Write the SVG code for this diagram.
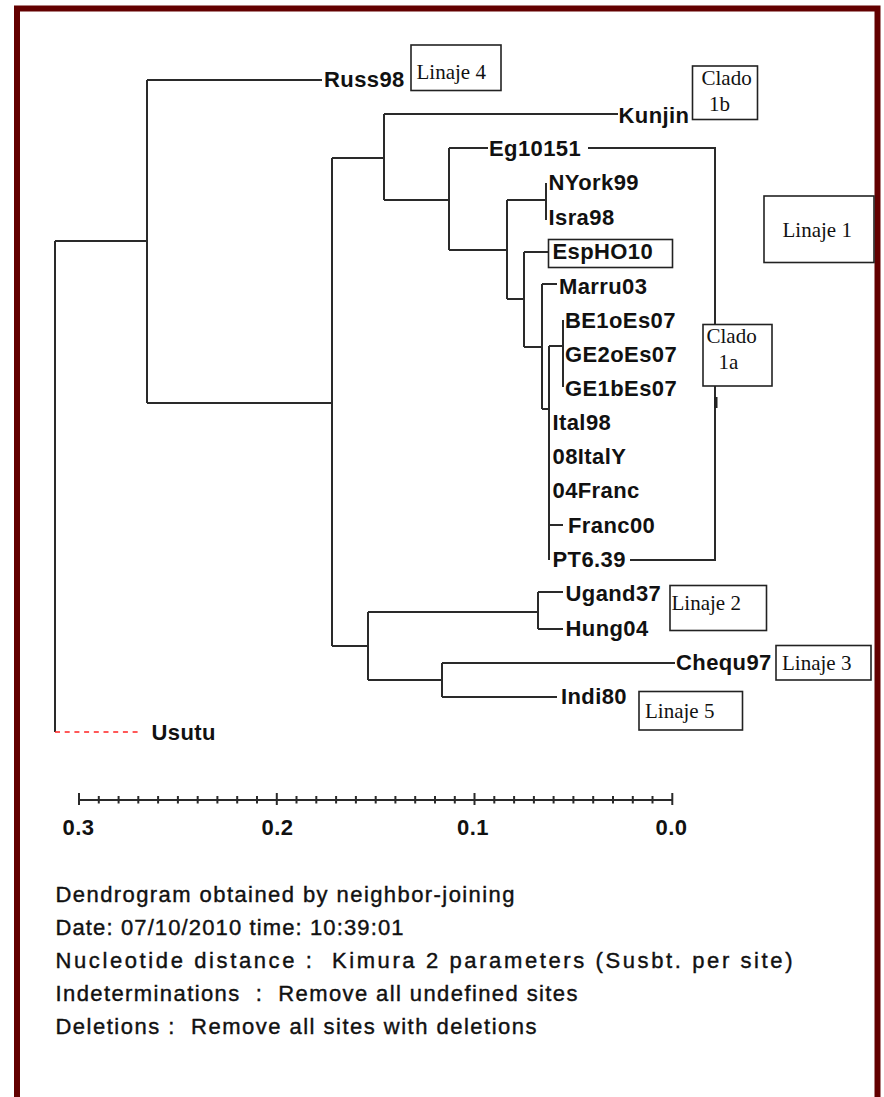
<svg xmlns="http://www.w3.org/2000/svg" width="884" height="1097" viewBox="0 0 884 1097">
<style>
.t{font-family:"Liberation Sans",Arial,sans-serif;font-weight:bold;font-size:22px;letter-spacing:0.4px;fill:#111}
.s{font-family:"Liberation Serif","Times New Roman",serif;font-size:21px;fill:#111}
.f{font-family:"Liberation Sans",Arial,sans-serif;font-size:22px;fill:#111;stroke:#111;stroke-width:0.4;white-space:pre}
.br{fill:none;stroke:#2a2a2a;stroke-width:2}
.box{fill:none;stroke:#222;stroke-width:1.6}
.tk{stroke:#2a2a2a;stroke-width:2}
</style>
<rect width="884" height="1097" fill="#fff"/>
<path d="M17,1110 V8.5 H877.5 V1110" fill="none" stroke="#630000" stroke-width="6"/>

<g id="connectors">
<path class="br" d="M55,241 H147 M55,241 V732 M147,80 V403 M147,80 H322 M147,403 H332 M332,158 V646 M332,158 H384 M332,646 H368 M384,114 V200 M384,114 H618 M384,200 H449 M449,148 V250 M449,148 H488 M449,250 H507 M507,200 V299 M507,200 H546 M507,299 H524 M546,183 V220 M524,252 V347 M524,252 H548 M524,347 H542 M542,284 V409 M542,284 H557 M542,409 H549 M549,346 V560 M549,346 H563 M549,525 H563 M563,320 V387 M588,148 H715 V324 M715,386 V560 H630 M368,612 V680 M368,612 H538 M368,680 H442 M538,592 V629 M538,592 H563 M538,629 H563 M442,663 V697 M442,663 H675 M442,697 H557"/>
<rect x="714" y="397" width="3.5" height="11" fill="#222"/>
<path d="M55,732 H142" fill="none" stroke="#f22" stroke-width="1.6" stroke-dasharray="5,4.7"/>
</g>

<g id="Russ98"><text class="t" x="324" y="87">Russ98</text></g>
<g id="Linaje4"><rect class="box" x="411" y="45" width="90" height="45.5"/><text class="s" x="416.5" y="79">Linaje 4</text></g>
<g id="Kunjin"><text class="t" x="618.5" y="122.5">Kunjin</text></g>
<g id="Clado1b"><rect class="box" x="692.5" y="66" width="65" height="53.5"/><text class="s" x="701.5" y="85">Clado</text><text class="s" x="709" y="111">1b</text></g>
<g id="Eg10151"><text class="t" x="489" y="156">Eg10151</text></g>
<g id="NYork99"><text class="t" x="548.5" y="190">NYork99</text></g>
<g id="Isra98"><text class="t" x="548.5" y="224.5">Isra98</text></g>
<g id="EspHO10"><rect class="box" x="548.5" y="239.5" width="124" height="28"/><text class="t" x="552.5" y="258.5">EspHO10</text></g>
<g id="Linaje1"><rect class="box" x="764" y="196" width="110" height="66.5"/><text class="s" x="782.5" y="236.5">Linaje 1</text></g>
<g id="Marru03"><text class="t" x="559" y="293.5">Marru03</text></g>
<g id="BE1oEs07"><text class="t" x="565" y="327.5">BE1oEs07</text></g>
<g id="GE2oEs07"><text class="t" x="565" y="361.5">GE2oEs07</text></g>
<g id="GE1bEs07"><text class="t" x="565" y="395.5">GE1bEs07</text></g>
<g id="Clado1a"><rect class="box" x="703" y="324.5" width="69" height="61.5"/><text class="s" x="706.5" y="342.5">Clado</text><text class="s" x="718.5" y="369">1a</text></g>
<g id="Ital98"><text class="t" x="552.5" y="430">Ital98</text></g>
<g id="08ItalY"><text class="t" x="552.5" y="464">08ItalY</text></g>
<g id="04Franc"><text class="t" x="552.5" y="498">04Franc</text></g>
<g id="Franc00"><text class="t" x="568" y="532.5">Franc00</text></g>
<g id="PT6.39"><text class="t" x="552.5" y="566.5">PT6.39</text></g>
<g id="Ugand37"><text class="t" x="565.5" y="600.5">Ugand37</text></g>
<g id="Hung04"><text class="t" x="565.5" y="636">Hung04</text></g>
<g id="Linaje2"><rect class="box" x="670" y="585.5" width="96.5" height="45"/><text class="s" x="671.5" y="610">Linaje 2</text></g>
<g id="Chequ97"><text class="t" x="676" y="670">Chequ97</text></g>
<g id="Linaje3"><rect class="box" x="776" y="645.5" width="95" height="34.5"/><text class="s" x="782" y="669.5">Linaje 3</text></g>
<g id="Indi80"><text class="t" x="561" y="704">Indi80</text></g>
<g id="Linaje5"><rect class="box" x="639" y="691.5" width="103.5" height="38.5"/><text class="s" x="645" y="717.5">Linaje 5</text></g>
<g id="Usutu"><text class="t" x="151.5" y="739.5">Usutu</text></g>

<g id="axis">
<path class="tk" d="M79,800 H672.3 M79,793 V805 M276.8,793 V805 M474.5,793 V805 M672.3,793 V805"/>
<path class="tk" stroke-width="1.6" d="M98.8,796 V803.5 M118.6,796 V803.5 M138.3,796 V803.5 M158.1,796 V803.5 M177.9,796 V803.5 M197.7,796 V803.5 M217.4,796 V803.5 M237.2,796 V803.5 M257,796 V803.5 M296.5,796 V803.5 M316.3,796 V803.5 M336.1,796 V803.5 M355.9,796 V803.5 M375.7,796 V803.5 M395.4,796 V803.5 M415.2,796 V803.5 M435,796 V803.5 M454.8,796 V803.5 M494.3,796 V803.5 M514.1,796 V803.5 M533.9,796 V803.5 M553.6,796 V803.5 M573.4,796 V803.5 M593.2,796 V803.5 M613,796 V803.5 M632.8,796 V803.5 M652.5,796 V803.5"/>
<text class="t" x="78.5" y="835" text-anchor="middle">0.3</text>
<text class="t" x="277.5" y="835" text-anchor="middle">0.2</text>
<text class="t" x="473" y="835" text-anchor="middle">0.1</text>
<text class="t" x="671.5" y="835" text-anchor="middle">0.0</text>
</g>

<g id="footer">
<text class="f" xml:space="preserve" x="55.5" y="902" textLength="459" lengthAdjust="spacing">Dendrogram obtained by neighbor-joining</text>
<text class="f" xml:space="preserve" x="55.5" y="935" textLength="348" lengthAdjust="spacing">Date: 07/10/2010 time: 10:39:01</text>
<text class="f" xml:space="preserve" x="55.5" y="968" textLength="737" lengthAdjust="spacing">Nucleotide distance :  Kimura 2 parameters (Susbt. per site)</text>
<text class="f" xml:space="preserve" x="55.5" y="1001" textLength="522" lengthAdjust="spacing">Indeterminations  :  Remove all undefined sites</text>
<text class="f" xml:space="preserve" x="55.5" y="1034" textLength="481" lengthAdjust="spacing">Deletions :  Remove all sites with deletions</text>
</g>
</svg>
